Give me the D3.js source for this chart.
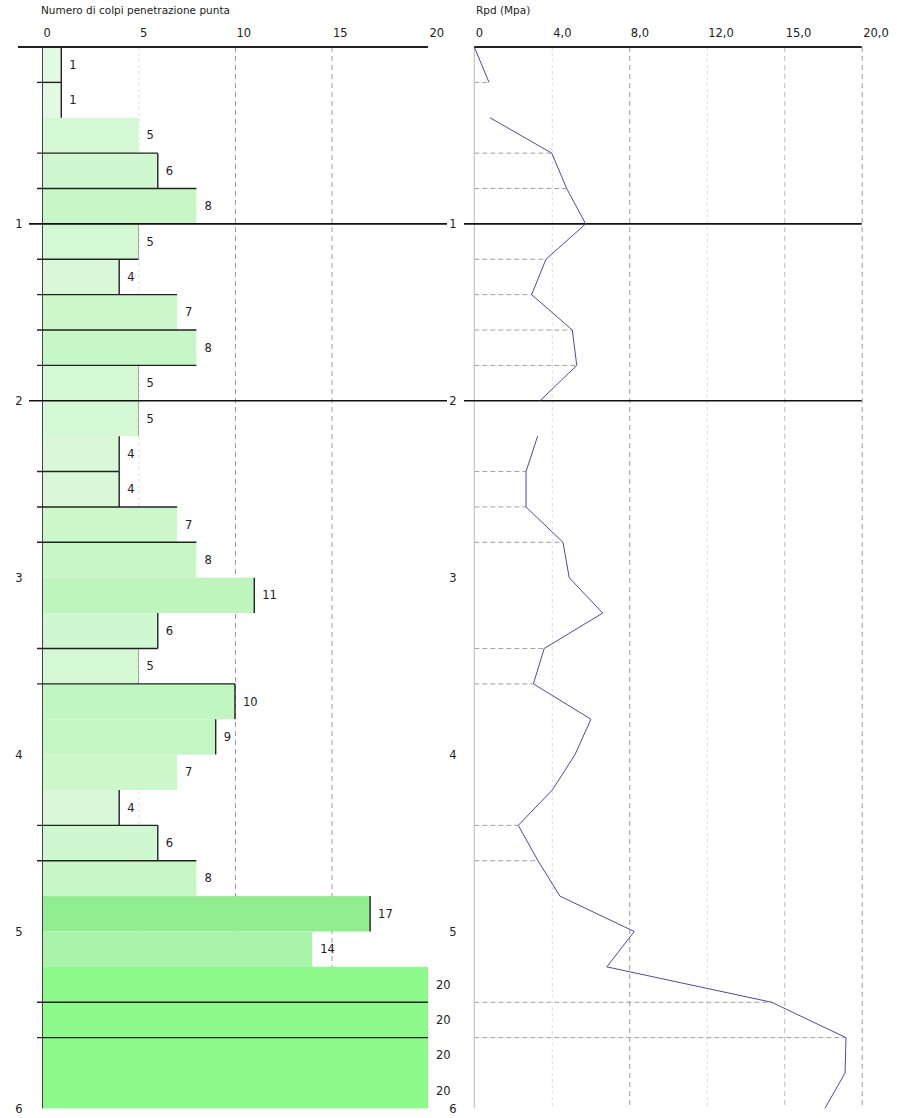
<!DOCTYPE html>
<html>
<head>
<meta charset="utf-8">
<script src="https://cdn.jsdelivr.net/npm/d3@7"></script>
<style>
  html, body { margin: 0; padding: 0; background: #fff; }
  svg { display: block; font-family: "DejaVu Sans", Verdana, sans-serif; }
</style>
</head>
<body>
<svg id="chart" width="898" height="1118"></svg>
<script>
// Blow counts per 0.2 m interval, from 0.0 m down to 6.0 m
const blows = [1, 1, 5, 6, 8, 5, 4, 7, 8, 5, 5, 4, 4, 7, 8, 11, 6, 5, 10, 9, 7, 4, 6, 8, 17, 14, 20, 20, 20, 20];
// Right-edge stroke of each blow bar: 0 none, 1 dark, 2 light
const edgeMark = [1, 1, 0, 1, 0, 2, 1, 0, 0, 2, 2, 1, 1, 0, 0, 1, 1, 2, 1, 1, 0, 1, 1, 0, 1, 0, 0, 0, 0, 0];
const step = 0.2;

// Dynamic point resistance Rpd (MPa) at each 0.2 m depth, 0.0 .. 6.0 m
const rpdDepths = d3.range(0, 31).map(i => +(i * step).toFixed(1));
const rpdValues = [0, 0.76, 0.81, 4.0, 4.77, 5.75, 3.70, 2.96, 5.06, 5.29, 3.39, 3.27, 2.67, 2.67, 4.58,
                   4.90, 6.63, 3.61, 3.05, 6.02, 5.20, 4.03, 2.27, 3.29, 4.42, 8.26, 6.84, 15.35, 19.19, 19.14, 18.10];
// Depths after which the Rpd trace is interrupted
const rpdBreaks = [0.2, 2.0];

// Depths marked by reference lines across both profiles
const markerDepths = [0.2, 0.6, 0.8, 1.2, 1.4, 1.6, 1.8, 2.4, 2.6, 2.8, 3.4, 3.6, 4.4, 4.6, 5.4, 5.6];
const fullDepthLines = [1, 2];

// Axis ticks and labels
const blowTicks = [0, 5, 10, 15, 20];
const blowTickLabels = ["0", "5", "10", "15", "20"];
const rpdTicks = [0, 4, 8, 12, 16, 20];
const rpdTickLabels = ["0", "4,0", "8,0", "12,0", "15,0", "20,0"];
const depthTicks = [1, 2, 3, 4, 5, 6];
const blowTitle = "Numero di colpi penetrazione punta";
const rpdTitle = "Rpd (Mpa)";

const svg = d3.select("#chart");
const y = d3.scaleLinear().domain([0, 6]).range([47, 1108.4]);
const xB = d3.scaleLinear().domain([0, 20]).range([42, 428]);
const xR = d3.scaleLinear().domain([0, 20]).range([474.3, 861.7]);
const yTop = y(0), yBot = y(6);

const barColor = d3.scaleLinear()
  .domain([1, 5, 8, 11, 14, 17, 20])
  .range(["#e2f9e2", "#d4f8d4", "#c7f7c7", "#bdf5bd", "#aaf3aa", "#90ed90", "#8cfb8c"]);

// ---------- grid lines ----------
const gridStyle = {
  faint: { stroke: "#dedede", dash: "3,3" },
  dash: { stroke: "#9a9a9a", dash: "5,4" },
  light: { stroke: "#bdbdbd", dash: "5,4" }
};
const blowGrid = [[5, "faint"], [10, "dash"], [15, "dash"]];
const rpdGrid = [[4, "faint"], [8, "dash"], [12, "faint"], [16, "light"], [20, "dash"]];

function drawGrid(g, scale, list) {
  g.selectAll("line").data(list).join("line")
    .attr("x1", d => scale(d[0]) + 0.5).attr("x2", d => scale(d[0]) + 0.5)
    .attr("y1", yTop).attr("y2", yBot)
    .attr("stroke", d => gridStyle[d[1]].stroke)
    .attr("stroke-dasharray", d => gridStyle[d[1]].dash)
    .attr("stroke-width", 1);
}
drawGrid(svg.append("g"), xB, blowGrid);
drawGrid(svg.append("g"), xR, rpdGrid);

// ---------- blow bars ----------
const bars = blows.map((v, i) => ({ v, top: i * step, bot: (i + 1) * step, edge: edgeMark[i] }));
const gBars = svg.append("g");
gBars.selectAll("rect").data(bars).join("rect")
  .attr("x", xB(0))
  .attr("y", d => y(d.top))
  .attr("width", d => xB(d.v) - xB(0))
  .attr("height", d => y(d.bot) - y(d.top))
  .attr("fill", d => barColor(d.v));

gBars.selectAll("line.edge").data(bars.filter(d => d.edge > 0)).join("line")
  .attr("class", "edge")
  .attr("x1", d => xB(d.v)).attr("x2", d => xB(d.v))
  .attr("y1", d => y(d.top)).attr("y2", d => y(d.bot))
  .attr("stroke", d => d.edge === 1 ? "#222" : "#a8a8a8")
  .attr("stroke-width", d => d.edge === 1 ? 1.4 : 1);

gBars.selectAll("text").data(bars).join("text")
  .attr("x", d => xB(d.v) + 8)
  .attr("y", d => (y(d.top) + y(d.bot)) / 2)
  .attr("dy", "0.35em")
  .attr("font-size", 11.5)
  .attr("fill", "#222")
  .text(d => d.v);

// left depth axis line
svg.append("line")
  .attr("x1", xB(0) + 0.5).attr("x2", xB(0) + 0.5)
  .attr("y1", yTop).attr("y2", yBot)
  .attr("stroke", "#444").attr("stroke-width", 1);

// right depth axis line
svg.append("line")
  .attr("x1", xR(0)).attr("x2", xR(0))
  .attr("y1", yTop).attr("y2", yBot)
  .attr("stroke", "#bbb").attr("stroke-width", 1);

// ---------- marker lines ----------
const blowAt = d => {
  const i = Math.round(d / step);
  return Math.max(blows[i - 1] ?? 0, blows[i] ?? 0);
};
const rpdAt = d => rpdValues[rpdDepths.indexOf(+d.toFixed(1))];

svg.append("g").selectAll("line").data(markerDepths).join("line")
  .attr("x1", 37).attr("x2", d => xB(blowAt(d)))
  .attr("y1", d => y(d)).attr("y2", d => y(d))
  .attr("stroke", "#222").attr("stroke-width", 1.4);

svg.append("g").selectAll("line").data(markerDepths).join("line")
  .attr("x1", xR(0)).attr("x2", d => xR(rpdAt(d)))
  .attr("y1", d => y(d)).attr("y2", d => y(d))
  .attr("stroke", "#a0a0a0").attr("stroke-dasharray", "5,3").attr("stroke-width", 1);

// full-width lines at whole metres
const gFull = svg.append("g");
fullDepthLines.forEach(d => {
  gFull.append("line").attr("x1", 29).attr("x2", 447)
    .attr("y1", y(d)).attr("y2", y(d)).attr("stroke", "#111").attr("stroke-width", 1.6);
  gFull.append("line").attr("x1", 464).attr("x2", xR(20))
    .attr("y1", y(d)).attr("y2", y(d)).attr("stroke", "#111").attr("stroke-width", 1.6);
});

// ---------- Rpd trace ----------
const runs = [];
let cur = [];
rpdDepths.forEach((d, i) => {
  cur.push([d, rpdValues[i]]);
  if (rpdBreaks.includes(d)) { runs.push(cur); cur = []; }
});
runs.push(cur);
const line = d3.line().x(p => xR(p[1])).y(p => y(p[0]));
svg.append("g").selectAll("path").data(runs).join("path")
  .attr("d", line)
  .attr("fill", "none")
  .attr("stroke", "#4b4ba3")
  .attr("stroke-width", 1);

// ---------- top axes ----------
svg.append("line").attr("x1", 18).attr("x2", xB(20))
  .attr("y1", yTop).attr("y2", yTop).attr("stroke", "#222").attr("stroke-width", 1.8);
svg.append("line").attr("x1", xR(0)).attr("x2", xR(20))
  .attr("y1", yTop).attr("y2", yTop).attr("stroke", "#222").attr("stroke-width", 1.8);

function topAxis(scale, ticks, labels) {
  const g = svg.append("g").attr("transform", `translate(0,${yTop - 10})`)
    .call(d3.axisTop(scale).tickValues(ticks).tickSize(0).tickPadding(0)
      .tickFormat((d, i) => labels[i]));
  g.select(".domain").remove();
  g.selectAll("text")
    .attr("text-anchor", "start").attr("dx", 1)
    .attr("font-size", 11.5).attr("fill", "#222")
    .attr("font-family", "DejaVu Sans, Verdana, sans-serif");
}
topAxis(xB, blowTicks, blowTickLabels);
topAxis(xR, rpdTicks, rpdTickLabels);

// depth labels on both profiles
function depthAxis(xPos) {
  const g = svg.append("g").attr("transform", `translate(${xPos},0)`)
    .call(d3.axisLeft(y).tickValues(depthTicks).tickSize(0).tickPadding(0)
      .tickFormat(d3.format("d")));
  g.select(".domain").remove();
  g.selectAll("text")
    .attr("text-anchor", "middle").attr("x", 0)
    .attr("font-size", 11.5).attr("fill", "#222")
    .attr("font-family", "DejaVu Sans, Verdana, sans-serif");
}
depthAxis(19);
depthAxis(453);

// titles
svg.append("text").attr("x", 41).attr("y", 14)
  .attr("font-size", 10.5).attr("fill", "#222").text(blowTitle);
svg.append("text").attr("x", 476).attr("y", 14)
  .attr("font-size", 10.5).attr("fill", "#222").text(rpdTitle);
</script>
</body>
</html>
